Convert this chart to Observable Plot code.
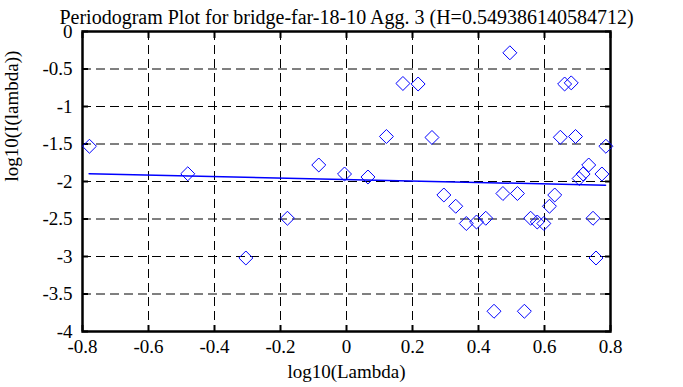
<!DOCTYPE html>
<html><head><meta charset="utf-8">
<script src="https://cdn.jsdelivr.net/npm/d3@7"></script>
<script src="https://cdn.jsdelivr.net/npm/@observablehq/plot@0.6"></script>
<style>body{margin:0;background:#fff}</style>
</head><body><div id="chart"></div>
<script>
const titleText = "Periodogram Plot for bridge-far-18-10 Agg. 3 (H=0.549386140584712)";
const xLabel = "log10(Lambda)";
const yLabel = "log10(I(lambda))";
const logLambda = [-0.779, -0.481, -0.305, -0.179, -0.084, -0.006, 0.065, 0.121, 0.171, 0.217, 0.259, 0.295, 0.331, 0.363, 0.394, 0.422, 0.447, 0.474, 0.495, 0.518, 0.539, 0.558, 0.578, 0.598, 0.615, 0.631, 0.648, 0.661, 0.681, 0.694, 0.705, 0.717, 0.734, 0.747, 0.756, 0.774, 0.786];
const logPeriodogram = [-1.53, -1.897, -3.02, -2.49, -1.78, -1.90, -1.94, -1.40, -0.693, -0.70, -1.413, -2.18, -2.33, -2.56, -2.54, -2.49, -3.73, -2.16, -0.284, -2.16, -3.73, -2.49, -2.54, -2.56, -2.33, -2.18, -1.41, -0.70, -0.685, -1.40, -1.96, -1.90, -1.78, -2.49, -3.02, -1.90, -1.53];
const fitX = [-0.78, 0.785];
const fitY = [-1.897, -2.05];
const xTicks = [-0.8, -0.6, -0.4, -0.2, 0, 0.2, 0.4, 0.6, 0.8];
const yTicks = [0, -0.5, -1, -1.5, -2, -2.5, -3, -3.5, -4];

const points = logLambda.map((x, i) => ({x, y: logPeriodogram[i]}));
const fit = fitX.map((x, i) => ({x, y: fitY[i]}));
const fmt = d => String(d);
const font = "Liberation Serif";
const fs = 19;

const plot = Plot.plot({
  width: 683, height: 387,
  marginLeft: 82, marginRight: 73, marginTop: 31, marginBottom: 56,
  style: {fontFamily: font, fontSize: fs + "px", background: "white", color: "black", overflow: "visible"},
  x: {domain: [-0.8, 0.8], axis: null},
  y: {domain: [-4, 0], axis: null},
  marks: [
    Plot.gridX(xTicks, {stroke: "black", strokeOpacity: 1, strokeWidth: 1, strokeDasharray: "9,5"}),
    Plot.gridY(yTicks, {stroke: "black", strokeOpacity: 1, strokeWidth: 1, strokeDasharray: "9,5"}),
    Plot.text(xTicks, {x: d => d, frameAnchor: "bottom", dy: 21, text: fmt, fontSize: fs, fontFamily: font, fill: "black"}),
    Plot.text(yTicks, {y: d => d, frameAnchor: "left", dx: -10, textAnchor: "end", text: fmt, fontSize: fs, fontFamily: font, fill: "black"}),
    Plot.axisX(xTicks, {anchor: "bottom", tickSize: 6, dy: -6, fill: "none", label: null, strokeWidth: 2}),
    Plot.axisX(xTicks, {anchor: "top", tickSize: 6, dy: 6, fill: "none", label: null, strokeWidth: 2}),
    Plot.axisY(yTicks, {anchor: "left", tickSize: 6, dx: 6, fill: "none", label: null, strokeWidth: 2}),
    Plot.axisY(yTicks, {anchor: "right", tickSize: 6, dx: -6, fill: "none", label: null, strokeWidth: 2}),
    Plot.frame({stroke: "black", strokeWidth: 2.5}),
    Plot.line(fit, {x: "x", y: "y", stroke: "#0000ff", strokeWidth: 1.5}),
    Plot.dot(points, {x: "x", y: "y", symbol: "diamond2", r: 6.3, stroke: "#0000ff", strokeWidth: 1, fill: "none"}),
    Plot.text([titleText], {frameAnchor: "top", dy: -22, text: d => d, fontSize: 20, fontFamily: font, fill: "black"}),
    Plot.text([xLabel], {frameAnchor: "bottom", dy: 46, text: d => d, fontSize: fs, fontFamily: font, fill: "black"}),
    Plot.text([yLabel], {frameAnchor: "left", dx: -71, rotate: -90, text: d => d, fontSize: fs, fontFamily: font, fill: "black"})
  ]
});
document.getElementById("chart").appendChild(plot);
</script>
</body></html>
